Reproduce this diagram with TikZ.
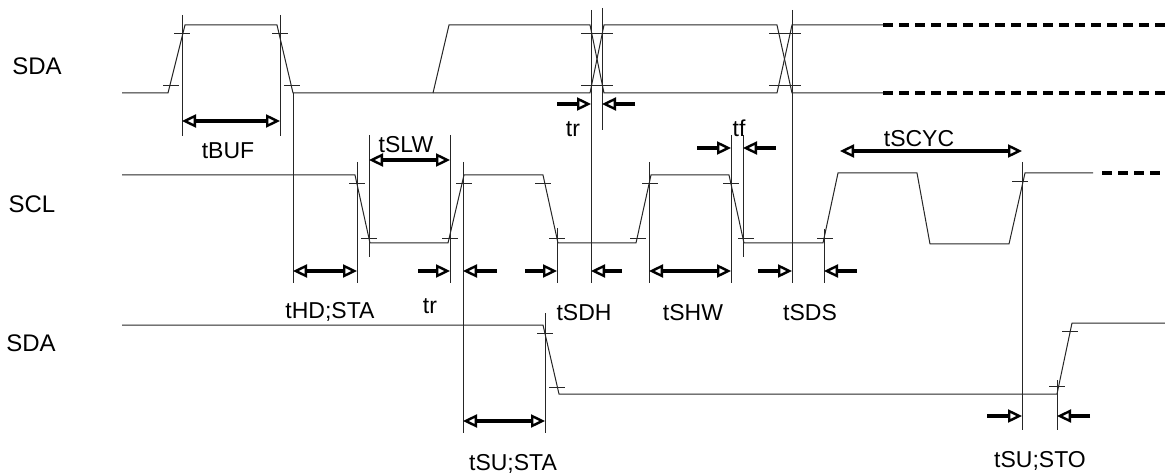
\documentclass[tikz,border=0pt]{standalone}
\usepackage{fontspec}
\setmainfont{Liberation Sans}
\usetikzlibrary{arrows.meta}
\tikzset{
  wave/.style={line width=1pt, black!85, line join=miter},
  guide/.style={line width=1pt, black!85},
  tickm/.style={line width=0.9pt, black!85},
  dashline/.style={line width=3.6pt, dash pattern=on 10pt off 6pt},
  tipA/.tip={Triangle[open,length=14pt,width=13pt,line width=2.4pt]},
  dimboth/.style={line width=3.8pt, tipA-tipA},
  dimright/.style={line width=3.8pt, -tipA},
  lbl/.style={font=\fontsize{23}{26}\selectfont, inner sep=0pt, anchor=base},
  sig/.style={font=\fontsize{24}{27}\selectfont, inner sep=0pt}
}
\newcommand{\tk}[2]{\draw[tickm] (#1-8,#2) -- (#1+8,#2);}
\begin{document}
\begin{tikzpicture}[x=1pt,y=-1pt]
\useasboundingbox (0,0) rectangle (1165,473);
% ---------------- signal names
\node[sig] (n1) at (37,66) {SDA};
\node[sig] (n2) at (32,204) {SCL};
\node[sig] (n3) at (31,343) {SDA};
% ---------------- top SDA
\draw[wave] (122,93) -- (168,93) -- (185,25) -- (277,25) -- (293,93) -- (590,93) -- (604,25) -- (777,25) -- (792,93) -- (883,93);
\draw[wave] (433,93) -- (449,25) -- (590,25) -- (604,93) -- (777,93) -- (792,25) -- (883,25);
\draw[dashline] (883,25) -- (1165,25);
\draw[dashline] (883,93) -- (1165,93);
\tk{182}{33} \tk{171}{85} \tk{280}{33} \tk{292}{85}
\tk{589}{33} \tk{605}{33} \tk{589}{85} \tk{605}{85}
\tk{777}{33} \tk{793}{33} \tk{777}{85} \tk{793}{85}
% ---------------- SCL
\draw[wave] (122,175) -- (355,175) -- (370,243) -- (448,243) -- (464,175) -- (543,175) -- (558,243) -- (636,243) -- (651,175) -- (729,175) -- (744,243) -- (823,243) -- (838,173) -- (917,173) -- (930,244) -- (1009,244) -- (1025,173) -- (1093,173);
\draw[dashline] (1102,173) -- (1165,173);
\tk{357}{183} \tk{369}{238} \tk{450}{238} \tk{464}{183}
\tk{543}{183} \tk{557}{238} \tk{638}{238} \tk{650}{183}
\tk{731}{183} \tk{746}{238} \tk{825}{238} \tk{1020}{181}
% ---------------- bottom SDA
\draw[wave] (122,325) -- (543,325) -- (559,394) -- (1057,394) -- (1072,323) -- (1165,323);
\tk{545}{333} \tk{557}{387} \tk{1057}{386} \tk{1070}{331}
% ---------------- guide lines
\draw[guide] (182,15) -- (182,136);
\draw[guide] (280,15) -- (280,136);
\draw[guide] (293,93) -- (293,283);
\draw[guide] (357,162) -- (357,283);
\draw[guide] (369,135) -- (369,257);
\draw[guide] (450,135) -- (450,283);
\draw[guide] (463,162) -- (463,433);
\draw[guide] (545,313) -- (545,433);
\draw[guide] (557,228) -- (557,283);
\draw[guide] (591,10) -- (591,283);
\draw[guide] (602,8) -- (602,130);
\draw[guide] (649,162) -- (649,283);
\draw[guide] (731,135) -- (731,283);
\draw[guide] (743,135) -- (743,257);
\draw[guide] (792,10) -- (792,283);
\draw[guide] (824,229) -- (824,283);
\draw[guide] (1022,162) -- (1022,430);
\draw[guide] (1057,380) -- (1057,430);
% ---------------- dimension arrows
\draw[dimboth] (182,121) -- (280,121);
\node[lbl] (tbuf) at (228,159) {tBUF};
\draw[dimboth] (369,160) -- (450,160);
\node[lbl] (tslw) at (406,153) {tSLW};
\draw[dimright] (557,104) -- (591,104);
\draw[dimright] (635,104) -- (602,104);
\node[lbl] (tr1) at (573,137) {tr};
\draw[dimright] (697,148) -- (731,148);
\draw[dimright] (776,148) -- (743,148);
\node[lbl] (tf) at (739,137) {tf};
\draw[dimboth] (840,151) -- (1022,151);
\node[lbl] (tscyc) at (919,147) {tSCYC};
\draw[dimboth] (293,271) -- (357,271);
\node[lbl] (thd) at (330,318) {tHD;STA};
\draw[dimright] (418,271) -- (450,271);
\draw[dimright] (497,271) -- (463,271);
\node[lbl] (tr2) at (430,313) {tr};
\draw[dimright] (525,271) -- (557,271);
\draw[dimright] (622,271) -- (591,271);
\node[lbl] (tsdh) at (584,320) {tSDH};
\draw[dimboth] (649,271) -- (731,271);
\node[lbl] (tshw) at (693,320) {tSHW};
\draw[dimright] (758,271) -- (792,271);
\draw[dimright] (857,271) -- (824,271);
\node[lbl] (tsds) at (810,320) {tSDS};
\draw[dimboth] (463,421) -- (545,421);
\node[lbl] (tsusta) at (513,470) {tSU;STA};
\draw[dimright] (987,416) -- (1022,416);
\draw[dimright] (1090,416) -- (1057,416);
\node[lbl] (tsusto) at (1040,467) {tSU;STO};
\end{tikzpicture}
\end{document}
